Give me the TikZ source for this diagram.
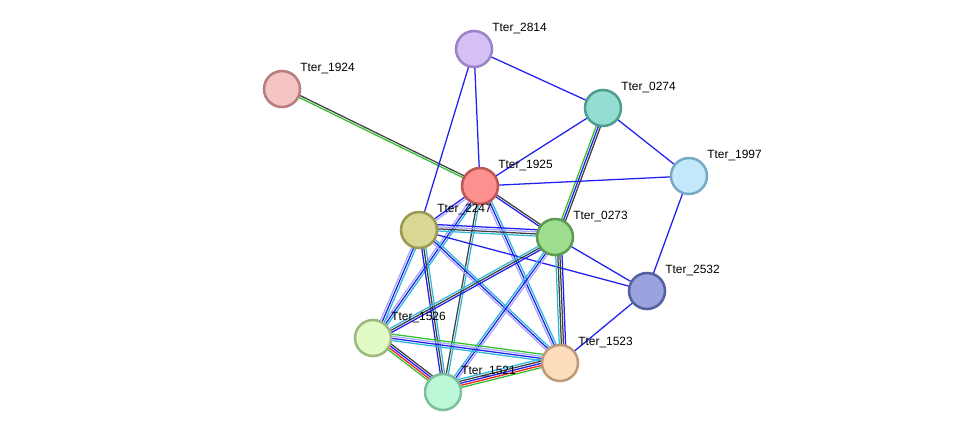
\documentclass[tikz,border=0pt]{standalone}
\usepackage{fontspec}
\setmainfont{Liberation Sans}
\usetikzlibrary{positioning,calc}
\definecolor{eblue}{HTML}{2020F0}
\definecolor{ecyan}{HTML}{30B8D8}
\definecolor{elav}{HTML}{A8A8F8}
\definecolor{egreen}{HTML}{30C030}
\definecolor{ered}{HTML}{F02020}
\definecolor{eblack}{HTML}{404040}
\definecolor{f2814}{HTML}{D4C0F5}\definecolor{d2814}{HTML}{9C82C9}
\definecolor{f1924}{HTML}{F5C5C5}\definecolor{d1924}{HTML}{B87D7D}
\definecolor{f0274}{HTML}{93DDD2}\definecolor{d0274}{HTML}{4E9E90}
\definecolor{f1997}{HTML}{C3E8FB}\definecolor{d1997}{HTML}{7AA9C7}
\definecolor{f1925}{HTML}{FD8F8F}\definecolor{d1925}{HTML}{C05555}
\definecolor{f2247}{HTML}{D8D894}\definecolor{d2247}{HTML}{9A9A52}
\definecolor{f0273}{HTML}{9EDE8E}\definecolor{d0273}{HTML}{5D9C50}
\definecolor{f2532}{HTML}{9AA3DE}\definecolor{d2532}{HTML}{5560A0}
\definecolor{f1526}{HTML}{E2FBC4}\definecolor{d1526}{HTML}{9EB882}
\definecolor{f1523}{HTML}{FDDCBC}\definecolor{d1523}{HTML}{BF9A7A}
\definecolor{f1521}{HTML}{BCF7D8}\definecolor{d1521}{HTML}{7CBF9C}
\tikzstyle{prot} = [circle, minimum size=9mm, inner sep=0pt, line width=1.8pt]
\tikzstyle{lbl} = [font=\fontsize{8.5}{10}\selectfont, anchor=west, inner sep=0pt]
% multi-line edge: list of colours drawn side by side
\newcommand{\ppiedge}[3]{%
  \foreach \c [count=\i] in {#3} {
    \pgfmathsetmacro{\off}{(\i-1)*1.5}
    \draw[\c, line width=0.9pt] ($(#1)!\off pt!90:(#2)$) -- ($(#2)!\off pt!-90:(#1)$);
  }}
% protein node with its label
\newcommand{\prot}[1]{%
  \node[prot, fill=f#1, draw=d#1] (n#1) at (p#1) {};
  \node[lbl] at ($(n#1)+(18,-20)$) {Tter\_#1};}
\begin{document}
\begin{tikzpicture}[x=0.25mm, y=-0.25mm]
\useasboundingbox (0,0) rectangle (976,438);
	\coordinate (p2814) at (474, 49);
	\coordinate (p1924) at (282, 89);
	\coordinate (p0274) at (603, 108);
	\coordinate (p1997) at (689, 176);
	\coordinate (p1925) at (480, 186);
	\coordinate (p2247) at (419, 230);
	\coordinate (p0273) at (555, 237);
	\coordinate (p2532) at (647, 291);
	\coordinate (p1526) at (373, 338);
	\coordinate (p1523) at (560, 363);
	\coordinate (p1521) at (443, 392);

	\ppiedge{p1924}{p1925}{egreen,eblack}
	\ppiedge{p2814}{p1925}{eblue}
	\ppiedge{p2814}{p0274}{eblue}
	\ppiedge{p2814}{p2247}{eblue}
	\ppiedge{p0274}{p1925}{eblue}
	\ppiedge{p0274}{p0273}{egreen,eblue,eblack}
	\ppiedge{p0274}{p1997}{eblue}
	\ppiedge{p1997}{p1925}{eblue}
	\ppiedge{p1997}{p2532}{eblue}
	\ppiedge{p1925}{p0273}{eblue,eblack}
	\ppiedge{p1925}{p2247}{eblue,elav}
	\ppiedge{p1925}{p1526}{elav,eblue,ecyan}
	\ppiedge{p1925}{p1521}{eblack,ecyan}
	\ppiedge{p1925}{p1523}{elav,eblue,ecyan}
	\ppiedge{p2247}{p0273}{ecyan,eblack,elav,eblue}
	\ppiedge{p2247}{p2532}{eblue}
	\ppiedge{p2247}{p1526}{elav,eblue,ecyan}
	\ppiedge{p2247}{p1521}{eblue,eblack,ecyan}
	\ppiedge{p2247}{p1523}{elav,eblue,ecyan}
	\ppiedge{p0273}{p2532}{eblue}
	\ppiedge{p0273}{p1526}{ecyan,eblack,eblue}
	\ppiedge{p0273}{p1521}{ecyan,eblue,elav}
	\ppiedge{p0273}{p1523}{ecyan,eblack,eblack,eblue}
	\ppiedge{p2532}{p1523}{eblue}
	\ppiedge{p1526}{p1521}{egreen,ered,eblue,eblack}
	\ppiedge{p1526}{p1523}{ecyan,eblue,elav,egreen}
	\ppiedge{p1521}{p1523}{egreen,ered,eblue,eblack,ecyan}

	\foreach \k in {2814,1924,0274,1997,1925,2247,0273,2532,1526,1523,1521}
		{\prot{\k}}
\end{tikzpicture}
\end{document}
